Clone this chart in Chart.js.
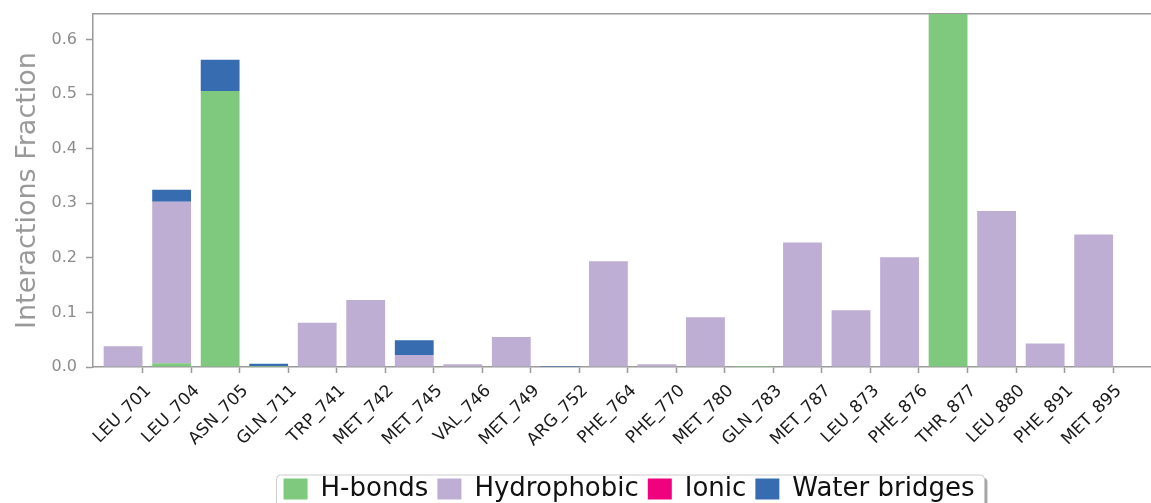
<!DOCTYPE html>
<html>
<head>
<meta charset="utf-8">
<script src="https://cdn.jsdelivr.net/npm/chart.js@4/dist/chart.umd.min.js"></script>
<style>
  html, body { margin: 0; padding: 0; background: #fff; overflow: hidden; }
  canvas { display: block; }
</style>
</head>
<body>
<canvas id="c" width="1258" height="512"></canvas>
<script>
const categories = ['LEU_701','LEU_704','ASN_705','GLN_711','TRP_741','MET_742','MET_745','VAL_746','MET_749','ARG_752','PHE_764','PHE_770','MET_780','GLN_783','MET_787','LEU_873','PHE_876','THR_877','LEU_880','PHE_891','MET_895'];
const hbonds      = [0, 0.007, 0.506, 0.002, 0, 0, 0, 0, 0, 0, 0, 0, 0, 0.002, 0, 0, 0, 0.70, 0, 0, 0];
const hydrophobic = [0.038, 0.296, 0, 0, 0.081, 0.123, 0.022, 0.005, 0.055, 0, 0.194, 0.005, 0.091, 0, 0.228, 0.104, 0.201, 0, 0.286, 0.043, 0.243];
const ionic       = [0, 0, 0, 0, 0, 0, 0, 0, 0, 0, 0, 0, 0, 0, 0, 0, 0, 0, 0, 0, 0];
const water       = [0, 0.022, 0.057, 0.004, 0, 0, 0.027, 0, 0, 0.002, 0, 0, 0, 0, 0, 0, 0, 0, 0, 0, 0];
const yTicks      = [0, 0.1, 0.2, 0.3, 0.4, 0.5, 0.6];

const BAR_FRAC = 0.8;
const FONT = "'DejaVu Sans', sans-serif";
const AXIS_GRAY = '#9a9a9a';

const toXY = arr => arr.map((v, i) => ({x: i, y: v}));
const mkSet = (label, arr, color) => ({
  label, data: toXY(arr), backgroundColor: color, borderWidth: 0, stack: 's',
  barPercentage: BAR_FRAC, categoryPercentage: 1.0
});

const legendFrame = {
  id: 'legendFrame',
  beforeDraw(chart) {
    const lg = chart.legend;
    if (!lg || !lg.legendHitBoxes || !lg.legendHitBoxes.length) return;
    const hb = lg.legendHitBoxes;
    const l = Math.min(...hb.map(h => h.left)) - 7;
    const r = Math.max(...hb.map(h => h.left + h.width)) + 10;
    const t = Math.min(...hb.map(h => h.top)) - 1;
    const b = t + 60;
    const ctx = chart.ctx;
    ctx.save();
    const rr = (x, y, w, h, rad) => {
      ctx.beginPath();
      ctx.moveTo(x + rad, y);
      ctx.lineTo(x + w - rad, y);
      ctx.quadraticCurveTo(x + w, y, x + w, y + rad);
      ctx.lineTo(x + w, y + h - rad);
      ctx.quadraticCurveTo(x + w, y + h, x + w - rad, y + h);
      ctx.lineTo(x + rad, y + h);
      ctx.quadraticCurveTo(x, y + h, x, y + h - rad);
      ctx.lineTo(x, y + rad);
      ctx.quadraticCurveTo(x, y, x + rad, y);
      ctx.closePath();
    };
    rr(l + 3, t + 3, r - l, b - t, 4);
    ctx.fillStyle = 'rgba(0,0,0,0.35)';
    ctx.fill();
    rr(l, t, r - l, b - t, 4);
    ctx.fillStyle = '#ffffff';
    ctx.fill();
    ctx.strokeStyle = '#cccccc';
    ctx.lineWidth = 1;
    ctx.stroke();
    ctx.restore();
  }
};

new Chart(document.getElementById('c'), {
  type: 'bar',
  data: {
    datasets: [
      mkSet('H-bonds', hbonds, '#7fc97f'),
      mkSet('Hydrophobic', hydrophobic, '#beaed4'),
      mkSet('Ionic', ionic, '#f0027f'),
      mkSet('Water bridges', water, '#386cb0')
    ]
  },
  plugins: [legendFrame],
  options: {
    responsive: false,
    animation: false,
    devicePixelRatio: 1,
    layout: { padding: { left: 0, right: 93, top: 14, bottom: 0 } },
    plugins: {
      tooltip: { enabled: false },
      legend: {
        position: 'bottom',
        fullSize: false,
        labels: {
          font: { family: FONT, size: 26 },
          color: '#111',
          boxWidth: 24,
          boxHeight: 21,
          padding: 9
        }
      }
    },
    scales: {
      x: {
        type: 'linear',
        offset: false,
        min: -0.62,
        max: 21.47,
        afterFit: s => { s.height = 100; s.paddingLeft = 0; s.paddingRight = 0; },
        afterBuildTicks: axis => { axis.ticks = categories.map((c, i) => ({ value: i + BAR_FRAC / 2 })); },
        ticks: {
          autoSkip: false,
          minRotation: 45,
          maxRotation: 45,
          padding: 8,
          labelOffset: 6,
          color: '#1a1a1a',
          font: { family: FONT, size: 17 },
          callback: (v, i) => categories[i]
        },
        grid: { offset: false, drawOnChartArea: false, drawTicks: true, tickLength: 6, tickColor: AXIS_GRAY, tickWidth: 1.5 },
        border: { display: true, color: AXIS_GRAY, width: 1.5 }
      },
      xTop: {
        type: 'linear',
        position: 'top',
        min: 0, max: 1,
        afterFit: s => { s.height = 0; s.paddingLeft = 0; s.paddingRight = 0; },
        ticks: { display: false },
        grid: { drawOnChartArea: false, drawTicks: false },
        border: { display: true, color: AXIS_GRAY, width: 1.5 }
      },
      y: {
        stacked: true,
        min: 0,
        max: 0.647,
        afterFit: s => { s.width = 93; s.paddingTop = 0; s.paddingBottom = 0; },
        afterBuildTicks: axis => { axis.ticks = yTicks.map(v => ({ value: v })); },
        ticks: {
          padding: 9,
          color: '#8c8c8c',
          font: { family: FONT, size: 16 },
          callback: v => Number(v).toFixed(1)
        },
        grid: { drawOnChartArea: false, drawTicks: true, tickLength: 7, tickColor: AXIS_GRAY, tickWidth: 1.5 },
        border: { display: true, color: AXIS_GRAY, width: 1.5 },
        title: {
          display: true,
          text: 'Interactions Fraction',
          color: '#999999',
          font: { family: FONT, size: 27 },
          padding: { top: 12, bottom: 0 }
        }
      }
    }
  }
});
</script>
</body>
</html>
